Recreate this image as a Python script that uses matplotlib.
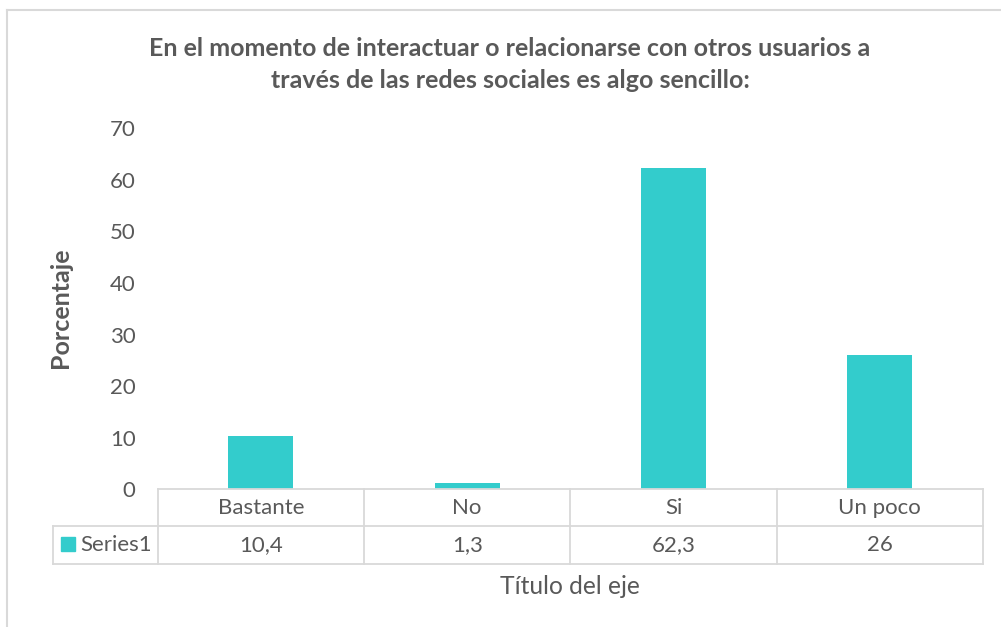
import matplotlib.pyplot as plt
import matplotlib.transforms as mtransforms
from matplotlib.lines import Line2D
from matplotlib.patches import Rectangle

categories = ["Bastante", "No", "Si", "Un poco"]
values = [10.4, 1.3, 62.3, 26]
value_labels = ["10,4", "1,3", "62,3", "26"]
series_name = "Series1"
yticks = [0, 10, 20, 30, 40, 50, 60, 70]

title = ("En el momento de interactuar o relacionarse con otros usuarios a\n"
         "través de las redes sociales es algo sencillo:")

BAR = "#33CCCC"
TEXT = "#595959"
GRID = "#D9D9D9"
FONT = ["Lato", "DejaVu Sans"]
TICK_FS = 16

W, H = 1001, 627
fig = plt.figure(figsize=(W / 100, H / 100), dpi=100)


def fx(px):
    return px / W


def fy(py):
    return 1 - py / H


# plot area in pixels
left, right, top, bottom = 157.7, 983.0, 128.3, 489.3
ax = fig.add_axes([fx(left), fy(bottom), fx(right - left), (bottom - top) / H])

x = range(len(categories))
ax.bar(x, values, width=0.315, color=BAR, zorder=2)
ax.set_xlim(-0.5, len(categories) - 0.5)
ax.set_ylim(0, 70)
ax.set_yticks(yticks)
ax.set_yticklabels([str(t) for t in yticks], fontsize=TICK_FS, color=TEXT, family=FONT)
ax.set_xticks([])
ax.tick_params(axis="y", length=0, pad=16)
for s in ax.spines.values():
    s.set_visible(False)

# chart border
fig.add_artist(Line2D([fx(7), fx(7)], [fy(9.5), 0], color=GRID, lw=1.5))
fig.add_artist(Line2D([fx(7), 1], [fy(9.5), fy(9.5)], color=GRID, lw=1.5))

# data table below the axis
trans = mtransforms.blended_transform_factory(ax.transData, fig.transFigure)
row0, row1, row2 = 489.3, 526.0, 564.3
x_lo, x_hi = -0.5, len(categories) - 0.5
x_legend = -0.5 - 105 / ((right - left) / len(categories))

lw = 1.3
for py, x0 in [(row0, x_lo), (row1, x_legend), (row2, x_legend)]:
    fig.add_artist(Line2D([x0, x_hi], [fy(py), fy(py)], transform=trans,
                          color=GRID, lw=lw))
for i in range(len(categories) + 1):
    xb = -0.5 + i
    fig.add_artist(Line2D([xb, xb], [fy(row0), fy(row2)], transform=trans,
                          color=GRID, lw=lw))
fig.add_artist(Line2D([x_legend, x_legend], [fy(row1), fy(row2)], transform=trans,
                      color=GRID, lw=lw))

for i, (cat, lab) in enumerate(zip(categories, value_labels)):
    fig.text(i, fy((row0 + row1) / 2), cat, transform=trans, ha="center",
             va="center", fontsize=TICK_FS, color=TEXT, family=FONT)
    fig.text(i, fy((row1 + row2) / 2), lab, transform=trans, ha="center",
             va="center", fontsize=TICK_FS, color=TEXT, family=FONT)

fig.add_artist(Rectangle((fx(61), fy(551)), fx(14), 14 / H, color=BAR))
fig.text(fx(80), fy((row1 + row2) / 2), series_name, ha="left", va="center",
         fontsize=TICK_FS, color=TEXT, family=FONT)

# titles
fig.text(fx(510), fy(64.5), title, ha="center", va="center", fontsize=18,
         fontweight="bold", color=TEXT, family=FONT, linespacing=1.45)
fig.text(fx(60), fy(308), "Porcentaje", rotation=90, ha="center", va="center",
         fontsize=18, fontweight="bold", color=TEXT, family=FONT)
fig.text(fx(570), fy(586), "Título del eje", ha="center", va="center",
         fontsize=17.7, color=TEXT, family=FONT)

fig.savefig("out.png", dpi=100, facecolor="white")
